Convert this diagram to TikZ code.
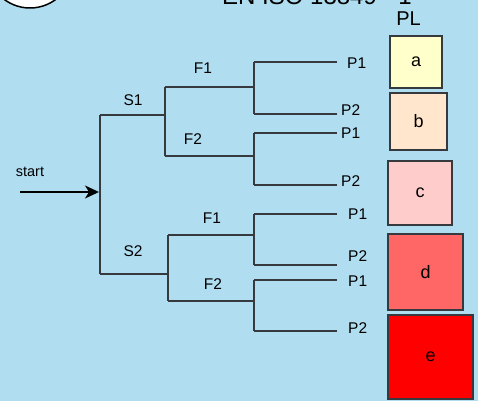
\documentclass[tikz,border=0pt]{standalone}
\usepackage{fontspec}
\setmainfont{Liberation Sans}
\usetikzlibrary{arrows.meta}
\definecolor{bgblue}{HTML}{B1DDF0}
\definecolor{linegrey}{HTML}{36393D}
\definecolor{pla}{HTML}{FFFFCC}
\definecolor{plb}{HTML}{FFE6CC}
\definecolor{plc}{HTML}{FFCCCC}
\definecolor{pld}{HTML}{FF6666}
\definecolor{ple}{HTML}{FF0000}
\tikzset{
  tree/.style={draw=linegrey, line width=1.8pt},
  lbl/.style={inner sep=0pt, font=\fontsize{15.5}{17}\selectfont},
  plabel/.style={lbl, anchor=west},
  plbox/.style={draw=linegrey, line width=1.7pt, inner sep=0pt,
    font=\fontsize{18}{20}\selectfont},
}
\begin{document}
\begin{tikzpicture}[x=1pt,y=-1pt]
\useasboundingbox (0,0) rectangle (478,401);
\clip (0,0) rectangle (478,401);
\fill[bgblue] (0,0) rectangle (478,401);
% partial circle at top left
\node[circle, draw=black, fill=white, line width=1.5pt, minimum size=86pt, inner sep=0pt] (logo) at (30,-35) {};
% title
\node[inner sep=0pt, anchor=base west, font=\fontsize{24}{26}\selectfont] (title) at (222,5) {EN ISO 13849 - 1};
\node[inner sep=0pt, anchor=base, font=\fontsize{20}{22}\selectfont] (pl) at (408.5,26) {PL};
% coordinates
\coordinate (r1) at (100,115);
\coordinate (r2) at (100,274);
\coordinate (rm) at (99,192);
\coordinate (st) at (20,192);
\coordinate (s1m) at (165,115);
\coordinate (s1t) at (165,87);
\coordinate (s1b) at (165,156);
\coordinate (f11m) at (254,87);
\coordinate (f11t) at (254,62);
\coordinate (f11b) at (254,114);
\coordinate (e111) at (337,62);
\coordinate (e112) at (337,114);
\coordinate (f12m) at (254,156);
\coordinate (f12t) at (254,133);
\coordinate (f12b) at (254,185);
\coordinate (e121) at (337,133);
\coordinate (e122) at (337,185);
\coordinate (s2m) at (168,274);
\coordinate (s2t) at (168,235);
\coordinate (s2b) at (168,301);
\coordinate (f21m) at (254,235);
\coordinate (f21t) at (254,214);
\coordinate (f21b) at (254,265);
\coordinate (e211) at (337,214);
\coordinate (e212) at (337,265);
\coordinate (f22m) at (254,301);
\coordinate (f22t) at (254,280);
\coordinate (f22b) at (254,331);
\coordinate (e221) at (337,280);
\coordinate (e222) at (337,331);
% tree lines
\draw[tree] (r1) -- (r2);
\draw[tree] (r1) -- (s1m);
\draw[tree] (s1t) -- (s1b);
\draw[tree] (s1t) -- (f11m);
\draw[tree] (f11t) -- (f11b);
\draw[tree] (f11t) -- (e111);
\draw[tree] (f11b) -- (e112);
\draw[tree] (s1b) -- (f12m);
\draw[tree] (f12t) -- (f12b);
\draw[tree] (f12t) -- (e121);
\draw[tree] (f12b) -- (e122);
\draw[tree] (r2) -- (s2m);
\draw[tree] (s2t) -- (s2b);
\draw[tree] (s2t) -- (f21m);
\draw[tree] (f21t) -- (f21b);
\draw[tree] (f21t) -- (e211);
\draw[tree] (f21b) -- (e212);
\draw[tree] (s2b) -- (f22m);
\draw[tree] (f22t) -- (f22b);
\draw[tree] (f22t) -- (e221);
\draw[tree] (f22b) -- (e222);
% start arrow
\node[lbl, font=\fontsize{14.5}{16}\selectfont] (start) at (30,172) {start};
\draw[line width=1.6pt, -{Stealth[length=14pt,width=13pt,inset=4pt]}] (st) -- (rm);
% branch labels
\node[lbl] (S1) at (133,100) {S1};
\node[lbl] (F11) at (203,68) {F1};
\node[lbl] (F12) at (193,139) {F2};
\node[lbl] (S2) at (133,251) {S2};
\node[lbl] (F21) at (212,218) {F1};
\node[lbl] (F22) at (213,284) {F2};
% P labels
\node[plabel] (p111) at (347,63) {P1};
\node[plabel] (p112) at (341,110) {P2};
\node[plabel] (p121) at (341,133) {P1};
\node[plabel] (p122) at (341,181) {P2};
\node[plabel] (p211) at (348,214) {P1};
\node[plabel] (p212) at (348,256) {P2};
\node[plabel] (p221) at (348,281) {P1};
\node[plabel] (p222) at (348,328) {P2};
% PL boxes
\node[plbox, fill=pla, minimum width=52pt, minimum height=52pt] (a) at (416,62) {a};
\node[plbox, fill=plb, minimum width=57pt, minimum height=57pt] (b) at (418.5,121.5) {b};
\node[plbox, fill=plc, minimum width=64pt, minimum height=64pt] (c) at (420,193) {c};
\node[plbox, fill=pld, minimum width=75pt, minimum height=76pt] (d) at (425.5,272) {d};
\node[plbox, fill=ple, minimum width=85pt, minimum height=84pt] (e) at (430.5,357) {e};
\end{tikzpicture}
\end{document}
